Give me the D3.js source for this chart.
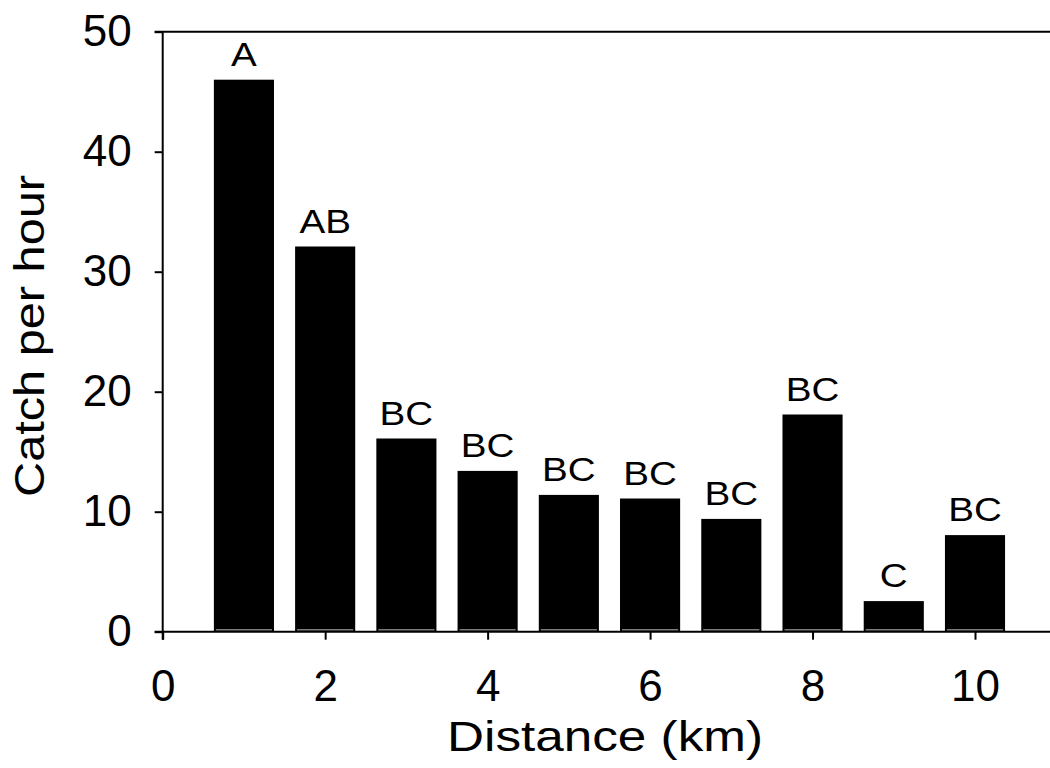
<!DOCTYPE html>
<html>
<head>
<meta charset="utf-8">
<script src="https://cdn.jsdelivr.net/npm/d3@7"></script>
<style>
  html, body { margin: 0; padding: 0; background: #fff; }
  svg { display: block; }
  text { font-family: "Liberation Sans", Arial, sans-serif; fill: #000; }
</style>
</head>
<body>
<svg id="chart" width="1050" height="768"></svg>
<script>
// ---- data ----
const distances = [1, 2, 3, 4, 5, 6, 7, 8, 9, 10];
const catchPerHour = [46.0, 32.1, 16.1, 13.4, 11.4, 11.1, 9.4, 18.1, 2.55, 8.05];
const groups = ["A", "AB", "BC", "BC", "BC", "BC", "BC", "BC", "C", "BC"];
const xTicks = [0, 2, 4, 6, 8, 10];
const yTicks = [0, 10, 20, 30, 40, 50];
const xTitle = "Distance (km)";
const yTitle = "Catch per hour";

// ---- layout ----
const svg = d3.select("#chart");
const x0 = 162.7, y0 = 631.7;
const x = d3.scaleLinear().domain([0, 10]).range([x0, 975]);
const y = d3.scaleLinear().domain([0, 50]).range([y0, 31.7]);
const barW = 0.74;
const tick = 8;

// bars
svg.append("g").selectAll("rect").data(distances).join("rect")
  .attr("x", (d) => x(d - barW / 2))
  .attr("width", (d) => x(d + barW / 2) - x(d - barW / 2))
  .attr("y", (d, i) => y(catchPerHour[i]))
  .attr("height", (d, i) => y(0) - y(catchPerHour[i]))
  .attr("fill", "#000");

// thin white base lines inside bars
svg.append("g").selectAll("line").data(distances).join("line")
  .attr("x1", (d) => x(d - barW / 2) + 2)
  .attr("x2", (d) => x(d + barW / 2) - 2)
  .attr("y1", y(0) - 1.8).attr("y2", y(0) - 1.8)
  .attr("stroke", "#fff").attr("stroke-width", 0.8);

// group letters
svg.append("g").selectAll("text").data(distances).join("text")
  .attr("transform", (d, i) => `translate(${x(d)},${y(catchPerHour[i]) - 14}) scale(1.17,1)`)
  .attr("text-anchor", "middle")
  .style("font-size", "33px")
  .text((d, i) => groups[i]);

// axes
const xAxis = d3.axisBottom(x).tickValues(xTicks).tickSize(tick).tickSizeOuter(0).tickPadding(30);
const yAxis = d3.axisLeft(y).tickValues(yTicks).tickSize(tick).tickSizeOuter(0).tickPadding(23);

const gx = svg.append("g").attr("transform", `translate(0,${y0})`).call(xAxis);
const gy = svg.append("g").attr("transform", `translate(${x0},0)`).call(yAxis);
[gx, gy].forEach((g) => {
  g.select(".domain").remove();
  g.selectAll(".tick line").attr("stroke", "#000").attr("stroke-width", 2);
  g.selectAll(".tick text").style("font-size", "44px").attr("fill", "#000")
    .style("font-family", '"Liberation Sans", Arial, sans-serif');
});

// axis lines (extend past the crossing by tick length)
svg.append("line").attr("x1", x0 - tick).attr("x2", 1050).attr("y1", y0).attr("y2", y0)
  .attr("stroke", "#000").attr("stroke-width", 2);
svg.append("line").attr("x1", x0).attr("x2", x0).attr("y1", y(50)).attr("y2", y0 + tick)
  .attr("stroke", "#000").attr("stroke-width", 2);
// top frame line
svg.append("line").attr("x1", x0 - tick).attr("x2", 1050).attr("y1", y(50)).attr("y2", y(50))
  .attr("stroke", "#000").attr("stroke-width", 2);

// titles
svg.append("text")
  .attr("x", 605).attr("y", 751)
  .attr("text-anchor", "middle")
  .attr("textLength", 316).attr("lengthAdjust", "spacingAndGlyphs")
  .style("font-size", "42px")
  .text(xTitle);

svg.append("text")
  .attr("transform", "translate(44,336) rotate(-90)")
  .attr("text-anchor", "middle")
  .attr("textLength", 322).attr("lengthAdjust", "spacingAndGlyphs")
  .style("font-size", "42px")
  .text(yTitle);
</script>
</body>
</html>
